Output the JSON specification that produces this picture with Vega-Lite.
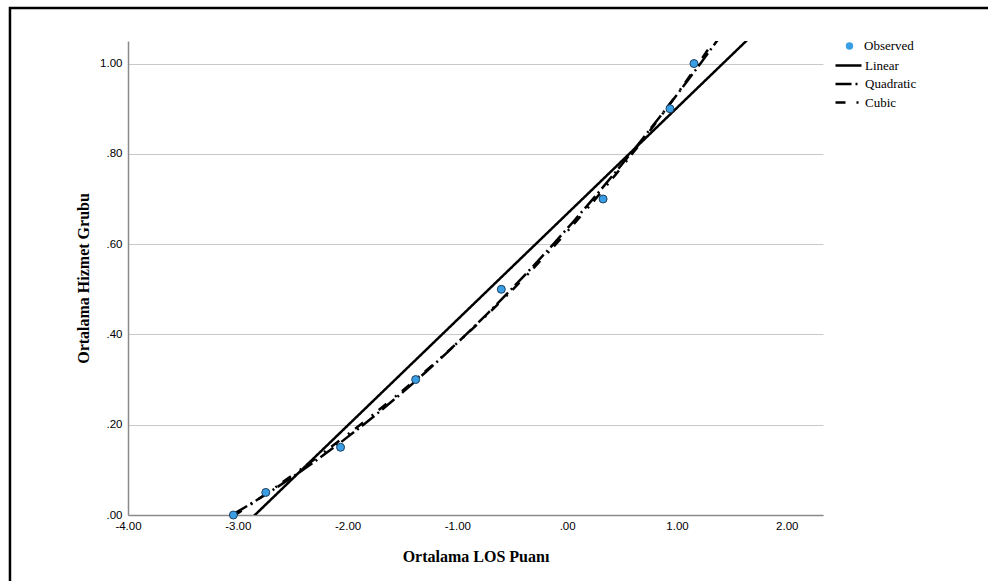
{
  "$schema": "https://vega.github.io/schema/vega-lite/v6.json",
  "width": 695,
  "height": 474,
  "autosize": {"type": "none"},
  "padding": {"left": 128, "top": 41, "right": 165, "bottom": 66},
  "background": "white",
  "config": {"view": {"stroke": null}},
  "datasets": {
    "obs": [
      {"x": -3.04, "y": 0.0},
      {"x": -2.745, "y": 0.05},
      {"x": -2.064, "y": 0.15},
      {"x": -1.38, "y": 0.30},
      {"x": -0.60, "y": 0.50},
      {"x": 0.327, "y": 0.70},
      {"x": 0.936, "y": 0.90},
      {"x": 1.155, "y": 1.00}
    ],
    "frame": [{"x": -5.075, "xe": 3.95, "y": -0.19, "ye": 1.123}]
  },
  "encoding": {
    "x": {
      "field": "x", "type": "quantitative",
      "scale": {"domain": [-4, 2.33], "nice": false, "zero": false},
      "axis": {
        "values": [-4, -3, -2, -1, 0, 1, 2],
        "labelExpr": "datum.value == 0 ? '.00' : (datum.value < 0 ? '-' + format(-datum.value, '.2f') : format(datum.value, '.2f'))",
        "grid": false, "ticks": false,
        "domainColor": "#8a8a8a", "domainWidth": 1.5,
        "labelFont": "Liberation Sans", "labelFontSize": 11.5, "labelColor": "#000",
        "labelPadding": 5, "labelFlush": false,
        "title": "Ortalama LOS Puanı",
        "titleFont": "Liberation Serif", "titleFontSize": 16, "titleFontWeight": "bold",
        "titleColor": "#000", "titlePadding": 17
      }
    },
    "y": {
      "field": "y", "type": "quantitative",
      "scale": {"domain": [0, 1.05], "nice": false, "zero": false},
      "axis": {
        "values": [0, 0.2, 0.4, 0.6, 0.8, 1.0],
        "labelExpr": "datum.value == 1 ? '1.00' : replace(format(datum.value, '.2f'), '0.', '.')",
        "grid": true, "gridColor": "#c8c8c8", "gridWidth": 1.2,
        "ticks": false,
        "domainColor": "#8a8a8a", "domainWidth": 1.5,
        "labelFont": "Liberation Sans", "labelFontSize": 11.5, "labelColor": "#000",
        "labelPadding": 6, "labelFlush": false,
        "title": "Ortalama Hizmet Grubu",
        "titleFont": "Liberation Serif", "titleFontSize": 16, "titleFontWeight": "bold",
        "titleColor": "#000", "titlePadding": 8
      }
    }
  },
  "layer": [
    {
      "data": {"name": "frame"},
      "mark": {"type": "rect", "filled": false, "stroke": "#000", "strokeWidth": 2.5, "clip": false},
      "encoding": {"x2": {"field": "xe"}, "y2": {"field": "ye"}}
    },
    {
      "data": {"name": "obs"},
      "transform": [{"regression": "y", "on": "x", "method": "linear", "extent": [-3.04, 1.8]}],
      "mark": {"type": "line", "color": "#000", "strokeWidth": 2.5, "clip": true},
      "encoding": {
        "strokeDash": {
          "datum": "Linear", "type": "nominal",
          "scale": {"domain": ["Linear", "Quadratic", "Cubic"], "range": [[1, 0], [16, 4, 2, 4], [10, 11, 2, 7]]},
          "legend": {
            "orient": "none", "legendX": 714, "legendY": 18, "title": null,
            "symbolType": "M-2.6,0H2.6", "symbolSize": 100,
            "symbolStrokeColor": "#000", "symbolStrokeWidth": 2.5,
            "labelFont": "Liberation Serif", "labelFontSize": 13, "labelColor": "#000",
            "labelOffset": 10, "rowPadding": 4.5
          }
        }
      }
    },
    {
      "data": {"name": "obs"},
      "transform": [{"regression": "y", "on": "x", "method": "quad", "extent": [-3.04, 1.8]}],
      "mark": {"type": "line", "color": "#000", "strokeWidth": 2.5, "clip": true},
      "encoding": {"strokeDash": {"datum": "Quadratic", "type": "nominal"}}
    },
    {
      "data": {"name": "obs"},
      "transform": [{"regression": "y", "on": "x", "method": "poly", "order": 3, "extent": [-3.04, 1.8]}],
      "mark": {"type": "line", "color": "#000", "strokeWidth": 2.5, "clip": true},
      "encoding": {"strokeDash": {"datum": "Cubic", "type": "nominal"}}
    },
    {
      "data": {"name": "obs"},
      "mark": {"type": "point", "filled": true, "fill": "#3a9ee4", "stroke": "#1f3f5f", "strokeWidth": 1, "size": 64, "opacity": 1},
      "encoding": {
        "shape": {
          "datum": "Observed", "type": "nominal",
          "scale": {"range": ["circle"]},
          "legend": {
            "orient": "none", "legendX": 715, "legendY": -1.5, "title": null,
            "symbolFillColor": "#3a9ee4", "symbolStrokeColor": "#1f3f5f", "symbolStrokeWidth": 1,
            "symbolSize": 55, "symbolOpacity": 1,
            "labelFont": "Liberation Serif", "labelFontSize": 13, "labelColor": "#000",
            "labelOffset": 8
          }
        }
      }
    }
  ]
}
